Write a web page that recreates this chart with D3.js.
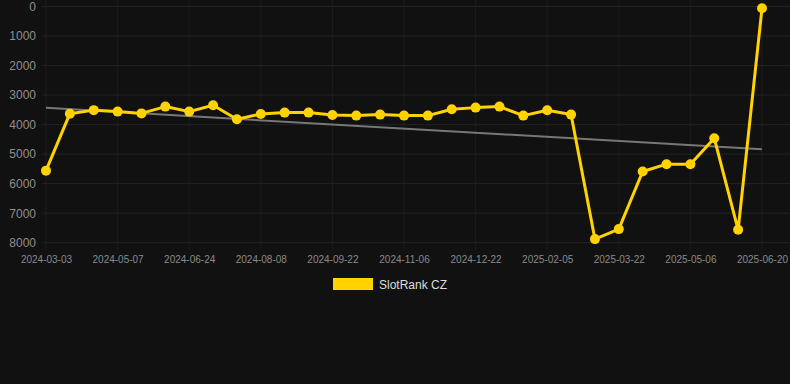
<!DOCTYPE html>
<html><head><meta charset="utf-8">
<script src="https://cdn.jsdelivr.net/npm/d3@7"></script>
<style>
html,body{margin:0;padding:0;background:#111111;}
svg{display:block;}
</style></head>
<body>
<svg id="chart" width="790" height="384"></svg>
<script>
const dates = ["2024-03-03","2024-03-25","2024-04-16","2024-05-07","2024-05-23","2024-06-08","2024-06-24","2024-07-09","2024-07-24","2024-08-08","2024-08-23","2024-09-07","2024-09-22","2024-10-07","2024-10-22","2024-11-06","2024-11-21","2024-12-06","2024-12-22","2025-01-06","2025-01-21","2025-02-05","2025-02-20","2025-03-07","2025-03-22","2025-04-06","2025-04-21","2025-05-06","2025-05-21","2025-06-05","2025-06-20"];
const ranks = [5560,3630,3510,3560,3620,3390,3560,3345,3818,3638,3594,3594,3672,3695,3661,3695,3695,3480,3425,3390,3695,3513,3661,7878,7540,5590,5340,5340,4460,7563,60];
const yTicks = [0,1000,2000,3000,4000,5000,6000,7000,8000];
const seriesName = "SlotRank CZ";

const svg = d3.select("#chart");
const x = d3.scalePoint().domain(dates).range([46, 762]);
const y = d3.scaleLinear().domain([0, 8000]).range([6.5, 242.7]);

// grid
const gx0 = 42, gx1 = 790;
svg.append("g").selectAll("line").data(yTicks).join("line")
  .attr("x1", gx0).attr("x2", gx1)
  .attr("y1", d => y(d)).attr("y2", d => y(d))
  .attr("stroke", "#232323").attr("stroke-width", 1);
const labelled = dates.filter((d, i) => i % 3 === 0);
svg.append("g").selectAll("line").data(labelled).join("line")
  .attr("x1", d => x(d)).attr("x2", d => x(d))
  .attr("y1", 0).attr("y2", 250)
  .attr("stroke", "#1c1c1c").attr("stroke-width", 1);

// y axis
const yAxis = d3.axisLeft(y).tickValues(yTicks).tickSize(0).tickPadding(0).tickFormat(d3.format("d"));
const ya = svg.append("g").attr("transform", "translate(36,0)").call(yAxis);
ya.select(".domain").remove();
ya.selectAll("text").attr("fill", "#8f8f8f").attr("font-family", "Arial, 'Liberation Sans', sans-serif").attr("font-size", 12);

// x axis
const xAxis = d3.axisBottom(x).tickValues(labelled).tickSize(0).tickPadding(0);
const xa = svg.append("g").attr("transform", "translate(0,260)").call(xAxis);
xa.select(".domain").remove();
xa.selectAll("text").attr("fill", "#8a8a8a").attr("font-family", "Arial, 'Liberation Sans', sans-serif").attr("font-size", 10).attr("dy", "0.32em");

// trend line (least squares)
const n = ranks.length;
const idx = d3.range(n);
const mx = d3.mean(idx), my = d3.mean(ranks);
const slope = d3.sum(idx, i => (i - mx) * (ranks[i] - my)) / d3.sum(idx, i => (i - mx) * (i - mx));
const icpt = my - slope * mx;
svg.append("line")
  .attr("x1", x(dates[0])).attr("y1", y(icpt))
  .attr("x2", x(dates[n - 1])).attr("y2", y(icpt + slope * (n - 1)))
  .attr("stroke", "#777").attr("stroke-width", 2);

// series line
const color = "#FFD200";
const line = d3.line().x((d, i) => x(dates[i])).y(d => y(d));
svg.append("path").datum(ranks).attr("d", line)
  .attr("fill", "none").attr("stroke", color).attr("stroke-width", 3).attr("stroke-linejoin", "round");
svg.append("g").selectAll("circle").data(ranks).join("circle")
  .attr("cx", (d, i) => x(dates[i])).attr("cy", d => y(d)).attr("r", 5)
  .attr("fill", color);

// legend
svg.append("rect").attr("x", 333).attr("y", 278).attr("width", 40).attr("height", 12).attr("fill", color);
svg.append("text").attr("x", 379).attr("y", 289).text(seriesName)
  .attr("fill", "#dddddd").attr("font-family", "Arial, 'Liberation Sans', sans-serif").attr("font-size", 12);
</script>
</body></html>
